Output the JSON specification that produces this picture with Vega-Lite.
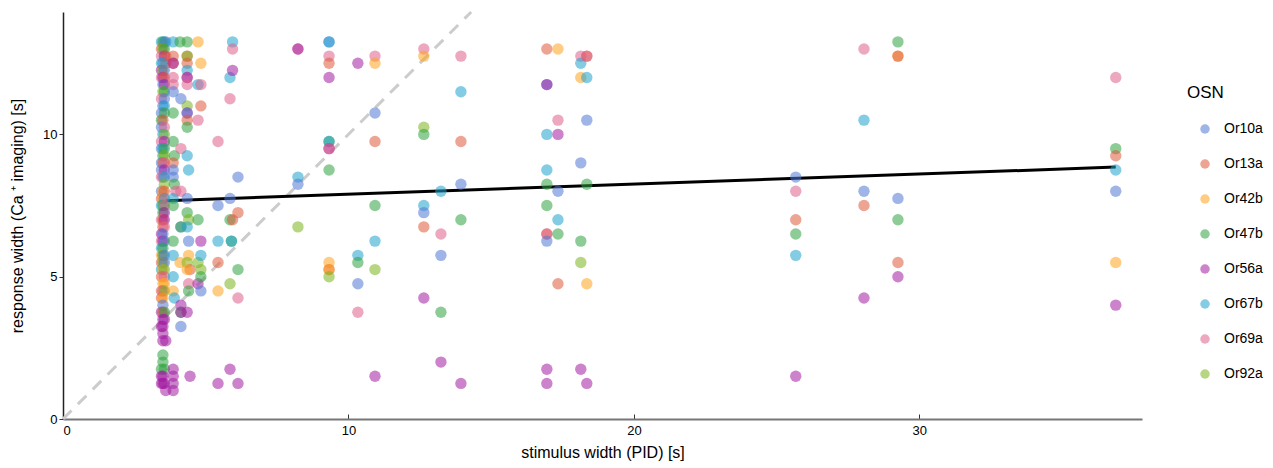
{
  "$schema": "https://vega.github.io/schema/vega-lite/v6.json",
  "width": 1079,
  "height": 407,
  "autosize": "none",
  "padding": {"left": 63, "top": 12, "right": 131, "bottom": 49},
  "config": {
    "view": {"stroke": null},
    "font": "Liberation Sans",
    "axis": {"grid": false, "labelFontSize": 13, "titleFontSize": 16, "titleFontWeight": "normal", "labelColor": "#000", "titleColor": "#000", "tickColor": "#333", "labelFont": "Liberation Sans", "titleFont": "Liberation Sans"},
    "legend": {"labelFont": "Liberation Sans", "titleFont": "Liberation Sans"}
  },
  "datasets": {
    "diag": [{"stim": 0, "resp": 0}, {"stim": 14.3, "resp": 14.3}],
    "fit": [{"stim": 3.6, "resp": 7.67}, {"stim": 36.88, "resp": 8.85}],
    "pts": [
      {"stim":3.45,"resp":13.25,"OSN":"Or67b"},{"stim":3.55,"resp":13.25,"OSN":"Or67b"},{"stim":3.5,"resp":13.25,"OSN":"Or47b"},{"stim":3.6,"resp":13.25,"OSN":"Or10a"},
      {"stim":3.45,"resp":13.0,"OSN":"Or13a"},{"stim":3.5,"resp":13.0,"OSN":"Or92a"},{"stim":3.55,"resp":13.0,"OSN":"Or47b"},
      {"stim":3.45,"resp":12.75,"OSN":"Or69a"},{"stim":3.55,"resp":12.75,"OSN":"Or56a"},{"stim":3.6,"resp":12.75,"OSN":"Or13a"},
      {"stim":3.5,"resp":12.5,"OSN":"Or10a"},{"stim":3.6,"resp":12.5,"OSN":"Or13a"},{"stim":3.45,"resp":12.5,"OSN":"Or67b"},
      {"stim":3.45,"resp":12.25,"OSN":"Or56a"},{"stim":3.5,"resp":12.25,"OSN":"Or92a"},{"stim":3.55,"resp":12.25,"OSN":"Or10a"},
      {"stim":3.45,"resp":12.0,"OSN":"Or69a"},{"stim":3.5,"resp":12.0,"OSN":"Or56a"},{"stim":3.55,"resp":12.0,"OSN":"Or13a"},
      {"stim":3.5,"resp":11.75,"OSN":"Or10a"},{"stim":3.55,"resp":11.75,"OSN":"Or56a"},
      {"stim":3.5,"resp":11.5,"OSN":"Or92a"},{"stim":3.55,"resp":11.5,"OSN":"Or47b"},
      {"stim":3.45,"resp":11.25,"OSN":"Or69a"},{"stim":3.55,"resp":11.25,"OSN":"Or10a"},
      {"stim":3.5,"resp":11.0,"OSN":"Or10a"},{"stim":3.55,"resp":11.0,"OSN":"Or67b"},
      {"stim":3.45,"resp":10.75,"OSN":"Or10a"},{"stim":3.55,"resp":10.75,"OSN":"Or47b"},
      {"stim":3.45,"resp":10.5,"OSN":"Or47b"},{"stim":3.5,"resp":10.5,"OSN":"Or13a"},
      {"stim":3.45,"resp":10.25,"OSN":"Or10a"},{"stim":3.55,"resp":10.25,"OSN":"Or69a"},
      {"stim":3.5,"resp":10.0,"OSN":"Or67b"},{"stim":3.55,"resp":10.0,"OSN":"Or92a"},
      {"stim":3.45,"resp":9.75,"OSN":"Or69a"},{"stim":3.55,"resp":9.75,"OSN":"Or56a"},
      {"stim":3.45,"resp":9.5,"OSN":"Or10a"},{"stim":3.5,"resp":9.5,"OSN":"Or67b"},{"stim":3.55,"resp":9.5,"OSN":"Or47b"},
      {"stim":3.5,"resp":9.25,"OSN":"Or47b"},{"stim":3.55,"resp":9.25,"OSN":"Or92a"},
      {"stim":3.45,"resp":9.0,"OSN":"Or10a"},{"stim":3.5,"resp":9.0,"OSN":"Or13a"},{"stim":3.55,"resp":9.0,"OSN":"Or69a"},
      {"stim":3.45,"resp":8.75,"OSN":"Or10a"},{"stim":3.55,"resp":8.75,"OSN":"Or56a"},
      {"stim":3.5,"resp":8.5,"OSN":"Or10a"},{"stim":3.45,"resp":8.5,"OSN":"Or69a"},{"stim":3.55,"resp":8.5,"OSN":"Or67b"},
      {"stim":3.55,"resp":8.25,"OSN":"Or92a"},
      {"stim":3.45,"resp":8.0,"OSN":"Or10a"},{"stim":3.5,"resp":8.0,"OSN":"Or42b"},{"stim":3.55,"resp":8.0,"OSN":"Or13a"},
      {"stim":3.45,"resp":7.75,"OSN":"Or13a"},{"stim":3.5,"resp":7.75,"OSN":"Or42b"},{"stim":3.55,"resp":7.75,"OSN":"Or10a"},
      {"stim":3.45,"resp":7.5,"OSN":"Or67b"},{"stim":3.5,"resp":7.5,"OSN":"Or47b"},{"stim":3.55,"resp":7.5,"OSN":"Or69a"},
      {"stim":3.5,"resp":7.25,"OSN":"Or47b"},{"stim":3.55,"resp":7.25,"OSN":"Or56a"},
      {"stim":3.45,"resp":7.0,"OSN":"Or69a"},{"stim":3.5,"resp":7.0,"OSN":"Or13a"},{"stim":3.55,"resp":7.0,"OSN":"Or56a"},
      {"stim":3.5,"resp":6.75,"OSN":"Or13a"},{"stim":3.55,"resp":6.75,"OSN":"Or69a"},
      {"stim":3.45,"resp":6.5,"OSN":"Or56a"},{"stim":3.5,"resp":6.5,"OSN":"Or10a"},
      {"stim":3.45,"resp":6.25,"OSN":"Or69a"},{"stim":3.5,"resp":6.25,"OSN":"Or56a"},{"stim":3.55,"resp":6.25,"OSN":"Or10a"},
      {"stim":3.45,"resp":6.0,"OSN":"Or67b"},{"stim":3.5,"resp":6.0,"OSN":"Or47b"},
      {"stim":3.45,"resp":5.75,"OSN":"Or42b"},{"stim":3.5,"resp":5.75,"OSN":"Or47b"},{"stim":3.55,"resp":5.75,"OSN":"Or10a"},
      {"stim":3.45,"resp":5.5,"OSN":"Or13a"},{"stim":3.5,"resp":5.5,"OSN":"Or92a"},{"stim":3.55,"resp":5.5,"OSN":"Or10a"},
      {"stim":3.45,"resp":5.25,"OSN":"Or67b"},{"stim":3.5,"resp":5.25,"OSN":"Or42b"},{"stim":3.55,"resp":5.25,"OSN":"Or92a"},
      {"stim":3.45,"resp":5.0,"OSN":"Or13a"},{"stim":3.55,"resp":5.0,"OSN":"Or69a"},
      {"stim":3.5,"resp":4.75,"OSN":"Or42b"},{"stim":3.55,"resp":4.75,"OSN":"Or42b"},
      {"stim":3.45,"resp":4.5,"OSN":"Or13a"},{"stim":3.5,"resp":4.5,"OSN":"Or69a"},{"stim":3.55,"resp":4.5,"OSN":"Or92a"},
      {"stim":3.45,"resp":4.25,"OSN":"Or13a"},{"stim":3.5,"resp":4.25,"OSN":"Or42b"},
      {"stim":3.5,"resp":4.0,"OSN":"Or10a"},
      {"stim":3.45,"resp":3.75,"OSN":"Or56a"},{"stim":3.5,"resp":3.75,"OSN":"Or13a"},{"stim":3.55,"resp":3.75,"OSN":"Or47b"},
      {"stim":3.5,"resp":3.5,"OSN":"Or56a"},{"stim":3.55,"resp":3.5,"OSN":"Or56a"},
      {"stim":3.5,"resp":3.25,"OSN":"Or56a"},{"stim":3.45,"resp":3.25,"OSN":"Or56a"},
      {"stim":3.5,"resp":3.0,"OSN":"Or56a"},
      {"stim":3.5,"resp":2.75,"OSN":"Or56a"},{"stim":3.6,"resp":2.75,"OSN":"Or56a"},
      {"stim":3.5,"resp":2.25,"OSN":"Or47b"},{"stim":3.5,"resp":2.0,"OSN":"Or47b"},
      {"stim":3.45,"resp":1.75,"OSN":"Or47b"},{"stim":3.55,"resp":1.75,"OSN":"Or47b"},
      {"stim":3.45,"resp":1.5,"OSN":"Or56a"},{"stim":3.5,"resp":1.5,"OSN":"Or56a"},
      {"stim":3.45,"resp":1.25,"OSN":"Or56a"},{"stim":3.5,"resp":1.25,"OSN":"Or56a"},{"stim":3.55,"resp":1.25,"OSN":"Or56a"},
      {"stim":3.6,"resp":1.0,"OSN":"Or56a"},

      {"stim":3.86,"resp":13.25,"OSN":"Or67b"},{"stim":4.1,"resp":13.25,"OSN":"Or47b"},
      {"stim":3.86,"resp":12.75,"OSN":"Or13a"},{"stim":3.86,"resp":12.5,"OSN":"Or13a"},{"stim":3.86,"resp":12.5,"OSN":"Or56a"},
      {"stim":3.86,"resp":12.0,"OSN":"Or69a"},{"stim":3.86,"resp":11.75,"OSN":"Or69a"},{"stim":3.86,"resp":11.5,"OSN":"Or10a"},
      {"stim":3.86,"resp":10.75,"OSN":"Or47b"},{"stim":3.86,"resp":9.75,"OSN":"Or47b"},{"stim":3.9,"resp":9.25,"OSN":"Or47b"},
      {"stim":3.86,"resp":9.0,"OSN":"Or13a"},{"stim":3.86,"resp":8.75,"OSN":"Or10a"},{"stim":3.86,"resp":8.5,"OSN":"Or10a"},
      {"stim":3.9,"resp":8.25,"OSN":"Or47b"},{"stim":3.95,"resp":8.0,"OSN":"Or69a"},{"stim":3.86,"resp":7.75,"OSN":"Or67b"},
      {"stim":3.86,"resp":7.5,"OSN":"Or47b"},{"stim":3.86,"resp":6.25,"OSN":"Or47b"},{"stim":3.86,"resp":5.75,"OSN":"Or67b"},
      {"stim":3.86,"resp":5.0,"OSN":"Or67b"},{"stim":3.86,"resp":4.5,"OSN":"Or42b"},{"stim":3.9,"resp":4.25,"OSN":"Or67b"},
      {"stim":3.86,"resp":1.75,"OSN":"Or56a"},{"stim":3.86,"resp":1.5,"OSN":"Or56a"},{"stim":3.86,"resp":1.25,"OSN":"Or56a"},{"stim":3.86,"resp":1.0,"OSN":"Or56a"},

      {"stim":4.13,"resp":11.25,"OSN":"Or10a"},{"stim":4.13,"resp":9.5,"OSN":"Or69a"},{"stim":4.13,"resp":8.0,"OSN":"Or69a"},
      {"stim":4.13,"resp":6.75,"OSN":"Or10a"},{"stim":4.13,"resp":6.75,"OSN":"Or47b"},{"stim":4.1,"resp":5.5,"OSN":"Or42b"},
      {"stim":4.13,"resp":4.0,"OSN":"Or56a"},{"stim":4.13,"resp":3.75,"OSN":"Or47b"},{"stim":4.13,"resp":3.75,"OSN":"Or56a"},{"stim":4.13,"resp":3.25,"OSN":"Or10a"},

      {"stim":4.35,"resp":13.25,"OSN":"Or47b"},{"stim":4.35,"resp":12.75,"OSN":"Or13a"},{"stim":4.35,"resp":12.75,"OSN":"Or92a"},
      {"stim":4.35,"resp":12.5,"OSN":"Or13a"},{"stim":4.35,"resp":12.25,"OSN":"Or67b"},{"stim":4.35,"resp":12.0,"OSN":"Or69a"},
      {"stim":4.35,"resp":12.0,"OSN":"Or56a"},{"stim":4.35,"resp":11.75,"OSN":"Or69a"},{"stim":4.35,"resp":11.0,"OSN":"Or92a"},
      {"stim":4.35,"resp":10.75,"OSN":"Or56a"},{"stim":4.35,"resp":10.75,"OSN":"Or10a"},{"stim":4.35,"resp":10.5,"OSN":"Or13a"},
      {"stim":4.35,"resp":10.25,"OSN":"Or47b"},{"stim":4.35,"resp":9.25,"OSN":"Or67b"},{"stim":4.4,"resp":8.75,"OSN":"Or67b"},
      {"stim":4.35,"resp":7.75,"OSN":"Or10a"},{"stim":4.35,"resp":7.25,"OSN":"Or47b"},{"stim":4.4,"resp":7.0,"OSN":"Or92a"},
      {"stim":4.35,"resp":6.75,"OSN":"Or67b"},{"stim":4.4,"resp":6.25,"OSN":"Or10a"},{"stim":4.4,"resp":5.75,"OSN":"Or42b"},
      {"stim":4.35,"resp":5.5,"OSN":"Or92a"},{"stim":4.45,"resp":5.25,"OSN":"Or13a"},{"stim":4.35,"resp":5.25,"OSN":"Or42b"},
      {"stim":4.4,"resp":4.75,"OSN":"Or69a"},{"stim":4.4,"resp":4.5,"OSN":"Or47b"},{"stim":4.35,"resp":3.75,"OSN":"Or56a"},
      {"stim":4.45,"resp":1.5,"OSN":"Or56a"},

      {"stim":4.73,"resp":13.25,"OSN":"Or42b"},{"stim":4.73,"resp":11.75,"OSN":"Or67b"},{"stim":4.73,"resp":10.5,"OSN":"Or69a"},
      {"stim":4.73,"resp":7.0,"OSN":"Or47b"},{"stim":4.73,"resp":5.5,"OSN":"Or92a"},{"stim":4.73,"resp":4.75,"OSN":"Or56a"},
      {"stim":4.83,"resp":12.5,"OSN":"Or42b"},{"stim":4.83,"resp":11.75,"OSN":"Or69a"},{"stim":4.83,"resp":11.0,"OSN":"Or13a"},
      {"stim":4.83,"resp":6.25,"OSN":"Or56a"},{"stim":4.83,"resp":5.75,"OSN":"Or67b"},{"stim":4.83,"resp":5.25,"OSN":"Or92a"},
      {"stim":4.83,"resp":5.0,"OSN":"Or47b"},{"stim":4.83,"resp":4.5,"OSN":"Or10a"},
      {"stim":5.43,"resp":9.75,"OSN":"Or69a"},{"stim":5.43,"resp":7.5,"OSN":"Or10a"},{"stim":5.43,"resp":6.25,"OSN":"Or67b"},
      {"stim":5.43,"resp":5.5,"OSN":"Or13a"},{"stim":5.43,"resp":4.5,"OSN":"Or42b"},{"stim":5.43,"resp":1.25,"OSN":"Or56a"},
      {"stim":5.85,"resp":12.0,"OSN":"Or67b"},{"stim":5.85,"resp":11.25,"OSN":"Or69a"},{"stim":5.85,"resp":7.75,"OSN":"Or10a"},
      {"stim":5.85,"resp":7.0,"OSN":"Or47b"},{"stim":5.9,"resp":6.25,"OSN":"Or47b"},{"stim":5.9,"resp":6.25,"OSN":"Or67b"},
      {"stim":5.85,"resp":4.75,"OSN":"Or92a"},{"stim":5.85,"resp":1.75,"OSN":"Or56a"},
      {"stim":5.94,"resp":13.25,"OSN":"Or67b"},{"stim":5.94,"resp":13.0,"OSN":"Or69a"},{"stim":5.94,"resp":12.25,"OSN":"Or56a"},
      {"stim":5.94,"resp":7.0,"OSN":"Or13a"},
      {"stim":6.13,"resp":8.5,"OSN":"Or10a"},{"stim":6.13,"resp":7.25,"OSN":"Or13a"},{"stim":6.13,"resp":5.25,"OSN":"Or47b"},
      {"stim":6.13,"resp":4.25,"OSN":"Or69a"},{"stim":6.13,"resp":1.25,"OSN":"Or56a"},

      {"stim":8.23,"resp":13.0,"OSN":"Or69a"},{"stim":8.23,"resp":13.0,"OSN":"Or56a"},{"stim":8.23,"resp":8.5,"OSN":"Or67b"},
      {"stim":8.23,"resp":8.25,"OSN":"Or10a"},{"stim":8.23,"resp":6.75,"OSN":"Or92a"},
      {"stim":9.32,"resp":13.25,"OSN":"Or10a"},{"stim":9.32,"resp":13.25,"OSN":"Or67b"},{"stim":9.32,"resp":12.75,"OSN":"Or69a"},
      {"stim":9.32,"resp":12.5,"OSN":"Or13a"},{"stim":9.32,"resp":12.0,"OSN":"Or56a"},{"stim":9.32,"resp":9.75,"OSN":"Or47b"},
      {"stim":9.32,"resp":9.75,"OSN":"Or67b"},{"stim":9.32,"resp":9.5,"OSN":"Or56a"},{"stim":9.32,"resp":9.5,"OSN":"Or69a"},
      {"stim":9.32,"resp":8.75,"OSN":"Or47b"},{"stim":9.32,"resp":5.5,"OSN":"Or42b"},{"stim":9.32,"resp":5.25,"OSN":"Or13a"},
      {"stim":9.32,"resp":5.25,"OSN":"Or42b"},{"stim":9.32,"resp":5.0,"OSN":"Or92a"},
      {"stim":10.33,"resp":12.5,"OSN":"Or56a"},{"stim":10.33,"resp":5.75,"OSN":"Or67b"},{"stim":10.33,"resp":5.5,"OSN":"Or47b"},
      {"stim":10.33,"resp":4.75,"OSN":"Or10a"},{"stim":10.33,"resp":3.75,"OSN":"Or69a"},
      {"stim":10.93,"resp":12.75,"OSN":"Or69a"},{"stim":10.93,"resp":12.5,"OSN":"Or42b"},{"stim":10.93,"resp":10.75,"OSN":"Or10a"},
      {"stim":10.93,"resp":9.75,"OSN":"Or13a"},{"stim":10.93,"resp":7.5,"OSN":"Or47b"},{"stim":10.93,"resp":6.25,"OSN":"Or67b"},
      {"stim":10.93,"resp":5.25,"OSN":"Or92a"},{"stim":10.93,"resp":1.5,"OSN":"Or56a"},
      {"stim":12.64,"resp":13.0,"OSN":"Or69a"},{"stim":12.64,"resp":12.75,"OSN":"Or42b"},{"stim":12.64,"resp":10.25,"OSN":"Or92a"},
      {"stim":12.64,"resp":10.0,"OSN":"Or47b"},{"stim":12.64,"resp":7.5,"OSN":"Or67b"},{"stim":12.64,"resp":7.25,"OSN":"Or10a"},
      {"stim":12.64,"resp":6.75,"OSN":"Or13a"},{"stim":12.64,"resp":4.25,"OSN":"Or56a"},
      {"stim":13.24,"resp":8.0,"OSN":"Or67b"},{"stim":13.24,"resp":6.5,"OSN":"Or69a"},{"stim":13.24,"resp":5.75,"OSN":"Or10a"},
      {"stim":13.24,"resp":3.75,"OSN":"Or47b"},{"stim":13.24,"resp":2.0,"OSN":"Or56a"},
      {"stim":13.94,"resp":12.75,"OSN":"Or69a"},{"stim":13.94,"resp":11.5,"OSN":"Or67b"},{"stim":13.94,"resp":9.75,"OSN":"Or13a"},
      {"stim":13.94,"resp":8.25,"OSN":"Or10a"},{"stim":13.94,"resp":7.0,"OSN":"Or47b"},{"stim":13.94,"resp":1.25,"OSN":"Or56a"},
      {"stim":16.95,"resp":13.0,"OSN":"Or13a"},{"stim":16.95,"resp":11.75,"OSN":"Or10a"},{"stim":16.95,"resp":11.75,"OSN":"Or56a"},
      {"stim":16.95,"resp":10.0,"OSN":"Or67b"},{"stim":16.95,"resp":8.75,"OSN":"Or67b"},{"stim":16.95,"resp":8.25,"OSN":"Or47b"},
      {"stim":16.95,"resp":7.5,"OSN":"Or47b"},{"stim":16.95,"resp":6.5,"OSN":"Or13a"},{"stim":16.95,"resp":6.5,"OSN":"Or69a"},
      {"stim":16.95,"resp":6.25,"OSN":"Or10a"},{"stim":16.95,"resp":1.75,"OSN":"Or56a"},{"stim":16.95,"resp":1.25,"OSN":"Or56a"},
      {"stim":17.34,"resp":13.0,"OSN":"Or42b"},{"stim":17.34,"resp":10.5,"OSN":"Or69a"},{"stim":17.34,"resp":10.0,"OSN":"Or56a"},
      {"stim":17.34,"resp":8.0,"OSN":"Or10a"},{"stim":17.34,"resp":7.0,"OSN":"Or67b"},{"stim":17.34,"resp":6.5,"OSN":"Or47b"},
      {"stim":17.34,"resp":4.75,"OSN":"Or13a"},
      {"stim":18.14,"resp":12.75,"OSN":"Or69a"},{"stim":18.14,"resp":12.5,"OSN":"Or67b"},{"stim":18.14,"resp":12.0,"OSN":"Or42b"},
      {"stim":18.14,"resp":9.0,"OSN":"Or10a"},{"stim":18.14,"resp":6.25,"OSN":"Or47b"},{"stim":18.14,"resp":5.5,"OSN":"Or92a"},
      {"stim":18.14,"resp":1.75,"OSN":"Or56a"},
      {"stim":18.35,"resp":12.75,"OSN":"Or13a"},{"stim":18.35,"resp":12.75,"OSN":"Or69a"},{"stim":18.35,"resp":12.0,"OSN":"Or67b"},
      {"stim":18.35,"resp":10.5,"OSN":"Or10a"},{"stim":18.35,"resp":8.25,"OSN":"Or47b"},{"stim":18.35,"resp":4.75,"OSN":"Or42b"},
      {"stim":18.35,"resp":1.25,"OSN":"Or56a"},
      {"stim":25.67,"resp":8.5,"OSN":"Or10a"},{"stim":25.67,"resp":8.0,"OSN":"Or69a"},{"stim":25.67,"resp":7.0,"OSN":"Or13a"},
      {"stim":25.67,"resp":6.5,"OSN":"Or47b"},{"stim":25.67,"resp":5.75,"OSN":"Or67b"},{"stim":25.67,"resp":1.5,"OSN":"Or56a"},
      {"stim":28.06,"resp":13.0,"OSN":"Or69a"},{"stim":28.06,"resp":10.5,"OSN":"Or67b"},{"stim":28.06,"resp":8.0,"OSN":"Or10a"},
      {"stim":28.06,"resp":7.5,"OSN":"Or13a"},{"stim":28.06,"resp":4.25,"OSN":"Or56a"},
      {"stim":29.25,"resp":13.25,"OSN":"Or47b"},{"stim":29.25,"resp":12.75,"OSN":"Or42b"},{"stim":29.25,"resp":12.75,"OSN":"Or13a"},
      {"stim":29.25,"resp":7.75,"OSN":"Or10a"},{"stim":29.25,"resp":7.0,"OSN":"Or47b"},{"stim":29.25,"resp":5.5,"OSN":"Or13a"},
      {"stim":29.25,"resp":5.0,"OSN":"Or56a"},
      {"stim":36.88,"resp":12.0,"OSN":"Or69a"},{"stim":36.88,"resp":9.5,"OSN":"Or47b"},{"stim":36.88,"resp":9.25,"OSN":"Or13a"},
      {"stim":36.88,"resp":8.75,"OSN":"Or67b"},{"stim":36.88,"resp":8.0,"OSN":"Or10a"},{"stim":36.88,"resp":5.5,"OSN":"Or42b"},
      {"stim":36.88,"resp":4.0,"OSN":"Or56a"}
    ]
  },
  "encoding": {
    "x": {"field": "stim", "type": "quantitative", "scale": {"domain": [0, 37.8], "nice": false},
      "axis": {"title": "stimulus width (PID) [s]", "values": [0, 10, 20, 30], "domainColor": "#777", "domainWidth": 2, "tickSize": -5, "labelPadding": 10, "titlePadding": 7}},
    "y": {"field": "resp", "type": "quantitative", "scale": {"domain": [0, 14.3], "nice": false},
      "axis": {"title": "response width (Ca ⁺ imaging) [s]", "values": [0, 5, 10], "domainColor": "#222", "domainWidth": 1.5, "tickSize": 4, "labelPadding": 2, "titlePadding": 17}}
  },
  "layer": [
    {"data": {"name": "diag"}, "mark": {"type": "line", "color": "#cccccc", "strokeWidth": 3, "strokeDash": [12, 9]}},
    {"data": {"name": "fit"}, "mark": {"type": "line", "color": "#000000", "strokeWidth": 3}},
    {"data": {"name": "pts"},
      "mark": {"type": "circle", "size": 130, "opacity": 0.55},
      "encoding": {"color": {"field": "OSN", "type": "nominal",
        "scale": {"domain": ["Or10a","Or13a","Or42b","Or47b","Or56a","Or67b","Or69a","Or92a"],
          "range": ["#5078d5","#df5a3a","#ffa31e","#2fa33f","#a31ea3","#1ea3cd","#de618a","#7ab41e"]},
        "legend": {"orient": "none", "legendX": 1124, "legendY": 73, "titleFontSize": 17, "titleFontWeight": "normal", "titleColor": "#000",
          "labelFontSize": 14, "labelColor": "#000", "symbolSize": 90, "symbolOffset": 11, "labelOffset": 12, "rowPadding": 21, "titlePadding": 20, "symbolStrokeWidth": 0}}}}
  ]
}
